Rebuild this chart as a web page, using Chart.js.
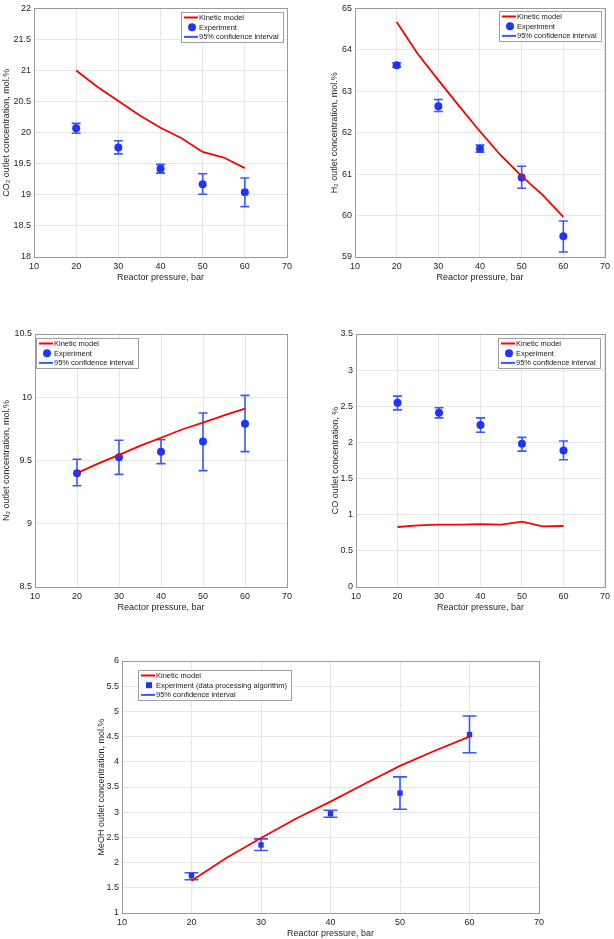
<!DOCTYPE html>
<html>
<head>
<meta charset="utf-8">
<script src="https://cdn.jsdelivr.net/npm/chart.js@4.4.0/dist/chart.umd.min.js"></script>
<style>
  html, body { margin: 0; padding: 0; background: #fff; overflow: hidden; }
  body { width: 614px; height: 939px; position: relative; }
  .panel { position: absolute; }
</style>
</head>
<body>
<div class="panel" id="p1"><canvas id="c1"></canvas></div>
<div class="panel" id="p2"><canvas id="c2"></canvas></div>
<div class="panel" id="p3"><canvas id="c3"></canvas></div>
<div class="panel" id="p4"><canvas id="c4"></canvas></div>
<div class="panel" id="p5"><canvas id="c5"></canvas></div>
<script>
// reactor pressure, bar
const pressureModel = [20, 25, 30, 35, 40, 45, 50, 55, 60];
const pressureExp = [20, 30, 40, 50, 60];

// CO2, mol.%
const co2Model = [21.0, 20.74, 20.51, 20.28, 20.08, 19.91, 19.69, 19.60, 19.43];
const co2Exp = [20.07, 19.76, 19.42, 19.17, 19.04];
const co2Lo = [19.99, 19.66, 19.35, 19.01, 18.81];
const co2Hi = [20.15, 19.87, 19.49, 19.34, 19.27];

// H2, mol.%
const h2Model = [64.67, 63.91, 63.27, 62.64, 62.03, 61.45, 60.95, 60.50, 59.97];
const h2Exp = [63.63, 62.64, 61.61, 60.92, 59.50];
const h2Lo = [63.58, 62.51, 61.53, 60.66, 59.12];
const h2Hi = [63.69, 62.80, 61.70, 61.19, 59.87];

// N2, mol.%
const n2Model = [9.40, 9.475, 9.545, 9.615, 9.68, 9.745, 9.80, 9.857, 9.91];
const n2Exp = [9.40, 9.525, 9.57, 9.65, 9.79];
const n2Lo = [9.30, 9.39, 9.475, 9.42, 9.57];
const n2Hi = [9.51, 9.66, 9.665, 9.875, 10.015];

// CO, %
const coModel = [0.83, 0.853, 0.862, 0.862, 0.871, 0.862, 0.904, 0.839, 0.844];
const coExp = [2.55, 2.41, 2.24, 1.98, 1.89];
const coLo = [2.45, 2.34, 2.14, 1.88, 1.76];
const coHi = [2.64, 2.48, 2.34, 2.07, 2.02];

// MeOH, mol.%
const meohModel = [1.64, 2.09, 2.49, 2.87, 3.21, 3.57, 3.92, 4.22, 4.50];
const meohExp = [1.74, 2.35, 2.97, 3.38, 4.54];
const meohLo = [1.66, 2.24, 2.90, 3.06, 4.18];
const meohHi = [1.80, 2.47, 3.04, 3.70, 4.91];

const xTitle = 'Reactor pressure, bar';
const legendLabels = ['Kinetic model', 'Experiment', '95% confidence interval'];

Chart.defaults.font.family = "'Liberation Sans', Arial, sans-serif";
Chart.defaults.color = '#262626';

const RED = '#ff0000';
const BLUE = '#1f35ff';
const BAR_BLUE = '#3a58ff';

// error bars from the "confidence interval" dataset (drawn before the markers)
const errorBars = {
  id: 'errorBars',
  afterDatasetDraw(chart, args, opts) {
    if (args.index !== 2) return;
    const ds = chart.data.datasets[2];
    const xs = chart.scales.x, ys = chart.scales.y;
    const ctx = chart.ctx;
    const cap = opts.cap || 4.5;
    ctx.save();
    ctx.strokeStyle = ds.borderColor;
    ctx.lineWidth = ds.borderWidth;
    ds.data.forEach(function(p) {
      const x = xs.getPixelForValue(p.x);
      const yl = ys.getPixelForValue(p.lo);
      const yh = ys.getPixelForValue(p.hi);
      ctx.beginPath();
      ctx.moveTo(x, yl); ctx.lineTo(x, yh);
      ctx.moveTo(x - cap, yl); ctx.lineTo(x + cap, yl);
      ctx.moveTo(x - cap, yh); ctx.lineTo(x + cap, yh);
      ctx.stroke();
    });
    ctx.restore();
  }
};

// axes box + legend box inside the plot, matlab style
const boxLegend = {
  id: 'boxLegend',
  afterDraw(chart, args, opts) {
    const ctx = chart.ctx;
    const a = chart.chartArea;
    ctx.save();
    ctx.strokeStyle = '#9a9a9a';
    ctx.lineWidth = 1;
    ctx.strokeRect(Math.round(a.left) + 0.5, Math.round(a.top) + 0.5,
      Math.round(a.right - a.left), Math.round(a.bottom - a.top));

    const sets = chart.data.datasets;
    ctx.font = "7.5px 'Liberation Sans', Arial, sans-serif";
    let tw = 0;
    sets.forEach(function(ds) { tw = Math.max(tw, ctx.measureText(ds.label).width); });
    const w = Math.round(19 + tw + 3);
    const rowH = 9.7;
    const h = 30;
    const bx = opts.side === 'right' ? Math.round(a.right - opts.dx - w) : Math.round(a.left + opts.dx);
    const by = Math.round(a.top + opts.dy);
    ctx.fillStyle = '#fff';
    ctx.fillRect(bx, by, w, h);
    ctx.strokeStyle = '#a0a0a0';
    ctx.strokeRect(bx + 0.5, by + 0.5, w, h);
    sets.forEach(function(ds, i) {
      const cy = by + 5.5 + i * rowH;
      if (ds.pointRadius > 0) {
        ctx.fillStyle = ds.backgroundColor;
        ctx.beginPath();
        if (ds.pointStyle === 'rect') {
          ctx.rect(bx + 8, cy - 3, 6, 6);
        } else {
          ctx.arc(bx + 11, cy, 4, 0, Math.PI * 2);
        }
        ctx.fill();
      } else {
        ctx.strokeStyle = ds.borderColor;
        ctx.lineWidth = 2;
        ctx.beginPath();
        ctx.moveTo(bx + 3, cy); ctx.lineTo(bx + 17, cy);
        ctx.stroke();
      }
      ctx.fillStyle = '#1a1a1a';
      ctx.textBaseline = 'middle';
      ctx.textAlign = 'left';
      ctx.fillText(ds.label, bx + 18, cy + 0.5);
    });
    ctx.restore();
  }
};

function tickText(v) {
  return String(Math.round(v * 100) / 100);
}

function buildChart(n, panel, yAxis, model, exp, lo, hi, expLabel, marker, legendPos, cap) {
  const wrap = document.getElementById('p' + n);
  const canvas = document.getElementById('c' + n);
  wrap.style.left = panel.left + 'px';
  wrap.style.top = panel.top + 'px';
  canvas.width = panel.width;
  canvas.height = panel.height;

  new Chart(canvas.getContext('2d'), {
    type: 'scatter',
    data: {
      datasets: [
        {
          label: legendLabels[0],
          data: pressureModel.map(function(x, i) { return { x: x, y: model[i] }; }),
          showLine: true,
          pointRadius: 0,
          borderColor: RED,
          borderWidth: 1.8,
          tension: 0
        },
        {
          label: expLabel,
          data: pressureExp.map(function(x, i) { return { x: x, y: exp[i] }; }),
          pointStyle: marker,
          pointRadius: marker === 'rect' ? 3.8 : 4,
          backgroundColor: BLUE,
          borderColor: BLUE,
          borderWidth: 0
        },
        {
          label: legendLabels[2],
          data: pressureExp.map(function(x, i) { return { x: x, y: exp[i], lo: lo[i], hi: hi[i] }; }),
          pointRadius: 0,
          borderColor: BAR_BLUE,
          borderWidth: 1.6
        }
      ]
    },
    options: {
      responsive: false,
      animation: false,
      layout: { padding: { top: panel.padTop, right: panel.padRight, left: 0, bottom: 0 } },
      plugins: {
        legend: { display: false },
        tooltip: { enabled: false },
        errorBars: { cap: cap },
        boxLegend: legendPos
      },
      scales: {
        x: {
          type: 'linear',
          min: 10,
          max: 70,
          afterFit: function(s) { s.height = 28; },
          grid: { color: '#e6e6e6', drawTicks: false },
          border: { display: false },
          ticks: { stepSize: 10, padding: 4, font: { size: 9 }, maxRotation: 0, callback: tickText },
          title: { display: true, text: xTitle, font: { size: 9 }, padding: { top: 2, bottom: 2 } }
        },
        y: {
          type: 'linear',
          min: yAxis.min,
          max: yAxis.max,
          afterFit: function(s) { s.width = panel.yWidth; },
          grid: { color: '#e6e6e6', drawTicks: false },
          border: { display: false },
          ticks: { stepSize: yAxis.step, padding: 3, font: { size: 9 }, callback: tickText },
          title: { display: true, text: yAxis.title, font: { size: 9 }, padding: { top: 1, bottom: 2 } }
        }
      }
    },
    plugins: [errorBars, boxLegend]
  });
}

buildChart(1, { left: 0, top: 0, width: 300, height: 285, padTop: 4, padRight: 13, yWidth: 34 },
  { min: 18, max: 22, step: 0.5, title: 'CO\u2082 outlet concentration, mol.%' },
  co2Model, co2Exp, co2Lo, co2Hi, legendLabels[1], 'circle',
  { side: 'right', dx: 4, dy: 4 }, 4.5);

buildChart(2, { left: 328, top: 0, width: 286, height: 285, padTop: 4, padRight: 5, yWidth: 27 },
  { min: 59, max: 65, step: 1, title: 'H\u2082 outlet concentration, mol.%' },
  h2Model, h2Exp, h2Lo, h2Hi, legendLabels[1], 'circle',
  { side: 'right', dx: 4, dy: 3 }, 4.5);

buildChart(3, { left: 0, top: 320, width: 300, height: 295, padTop: 14, padRight: 13, yWidth: 35 },
  { min: 8.5, max: 10.5, step: 0.5, title: 'N\u2082 outlet concentration, mol.%' },
  n2Model, n2Exp, n2Lo, n2Hi, legendLabels[1], 'circle',
  { side: 'left', dx: 1, dy: 4 }, 4.5);

buildChart(4, { left: 329, top: 320, width: 285, height: 295, padTop: 14, padRight: 5, yWidth: 27 },
  { min: 0, max: 3.5, step: 0.5, title: 'CO outlet concentration, %' },
  coModel, coExp, coLo, coHi, legendLabels[1], 'circle',
  { side: 'right', dx: 5, dy: 4 }, 4.5);

buildChart(5, { left: 95, top: 640, width: 461, height: 301, padTop: 21, padRight: 17, yWidth: 27 },
  { min: 1, max: 6, step: 0.5, title: 'MeOH outlet concentration, mol.%' },
  meohModel, meohExp, meohLo, meohHi, 'Experiment (data processing algorithm)', 'rect',
  { side: 'left', dx: 16, dy: 9 }, 7);
</script>
</body>
</html>
